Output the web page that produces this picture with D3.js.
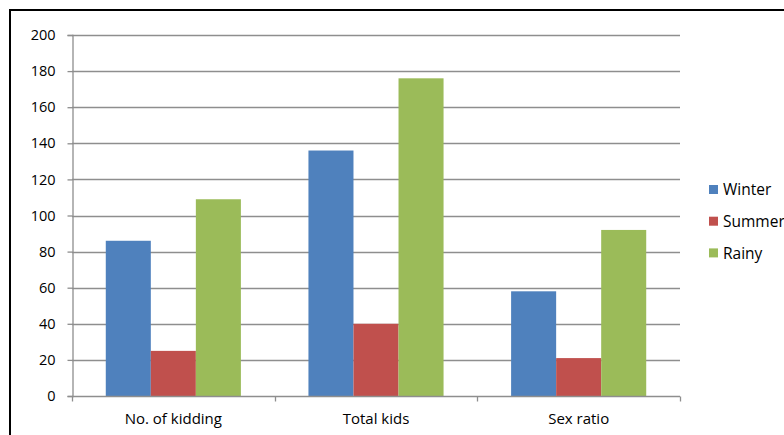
<!DOCTYPE html>
<html>
<head>
<meta charset="utf-8">
<script src="https://cdn.jsdelivr.net/npm/d3@7"></script>
<style>
  html, body { margin: 0; padding: 0; background: #fff; }
  svg { display: block; }
  text { font-family: "Open Sans", "Liberation Sans", sans-serif; fill: #000; }
</style>
</head>
<body>
<svg id="chart" width="784" height="435"></svg>
<script>
const categories = ["No. of kidding", "Total kids", "Sex ratio"];
const seriesNames = ["Winter", "Summer", "Rainy"];
const winter = [86, 136, 58];
const summer = [25, 40, 21];
const rainy = [109, 176, 92];
const yTicks = [0, 20, 40, 60, 80, 100, 120, 140, 160, 180, 200];
const colors = ["#4F81BD", "#C0504D", "#9BBB59"];

const seriesValues = [winter, summer, rainy];
const svg = d3.select("#chart");

// outer frame
svg.append("rect")
  .attr("x", 10).attr("y", 10)
  .attr("width", 800).attr("height", 450)
  .attr("fill", "none").attr("stroke", "#000").attr("stroke-width", 2);

const plot = { left: 72, right: 680, top: 35, bottom: 396 };

const y = d3.scaleLinear().domain([0, 200]).range([plot.bottom, plot.top]);
const x0 = d3.scaleBand().domain(categories).range([plot.left, plot.right])
  .paddingInner(0).paddingOuter(0);
// gap width 150%: 3 bars + 1.5 bar gap
const x1 = d3.scaleBand().domain(seriesNames)
  .range([0, x0.bandwidth()])
  .paddingInner(0).paddingOuter(0.75);

// gridlines
svg.append("g")
  .selectAll("line")
  .data(yTicks.filter(t => t > 0))
  .join("line")
  .attr("x1", plot.left).attr("x2", plot.right)
  .attr("y1", d => Math.round(y(d)) + 0.5).attr("y2", d => Math.round(y(d)) + 0.5)
  .attr("stroke", "#8e8e8e").attr("stroke-width", 1.3);

// bars
const groups = svg.append("g").selectAll("g")
  .data(categories)
  .join("g")
  .attr("transform", d => `translate(${x0(d)},0)`);

groups.selectAll("rect")
  .data((d, i) => seriesNames.map((s, j) => ({ s, v: seriesValues[j][i], j })))
  .join("rect")
  .attr("x", d => x1(d.s))
  .attr("width", x1.bandwidth())
  .attr("y", d => y(d.v))
  .attr("height", d => y(0) - y(d.v))
  .attr("fill", d => colors[d.j]);

// y axis
const yAxis = d3.axisLeft(y).tickValues(yTicks).tickSize(5).tickPadding(12);
const gy = svg.append("g")
  .attr("transform", `translate(${plot.left + 0.5},0)`)
  .call(yAxis);
gy.select(".domain").attr("stroke", "#8e8e8e").attr("stroke-width", 1.3);
gy.selectAll(".tick line").attr("stroke", "#8e8e8e").attr("stroke-width", 1.3);
gy.selectAll(".tick text").style("font-size", "14.5px").attr("fill", "#000");

// x axis
const xAxis = d3.axisBottom(x0).tickSize(0).tickPadding(17);
const gx = svg.append("g")
  .attr("transform", `translate(0,${plot.bottom + 0.5})`)
  .call(xAxis);
gx.select(".domain").attr("stroke", "#8e8e8e").attr("stroke-width", 1.3)
  .attr("d", `M${plot.left},0H${plot.right}`);
gx.selectAll(".tick text").style("font-size", "15px").attr("fill", "#000");
// category boundary ticks
const bounds = categories.map(c => x0(c)).concat([x0(categories[categories.length - 1]) + x0.bandwidth()]);
gx.append("g").selectAll("line")
  .data(bounds)
  .join("line")
  .attr("x1", d => Math.round(d) + 0.5).attr("x2", d => Math.round(d) + 0.5)
  .attr("y1", 0).attr("y2", 5)
  .attr("stroke", "#8e8e8e").attr("stroke-width", 1.3);

// legend
const legend = svg.append("g").attr("transform", "translate(709,190)");
const li = legend.selectAll("g")
  .data(seriesNames)
  .join("g")
  .attr("transform", (d, i) => `translate(0,${i * 31.7})`);
li.append("rect")
  .attr("x", 0).attr("y", -5).attr("width", 9).attr("height", 9)
  .attr("fill", (d, i) => colors[i]);
li.append("text")
  .attr("x", 14).attr("y", 0).attr("dy", "0.35em")
  .style("font-size", "15.5px")
  .text(d => d);
</script>
</body>
</html>
